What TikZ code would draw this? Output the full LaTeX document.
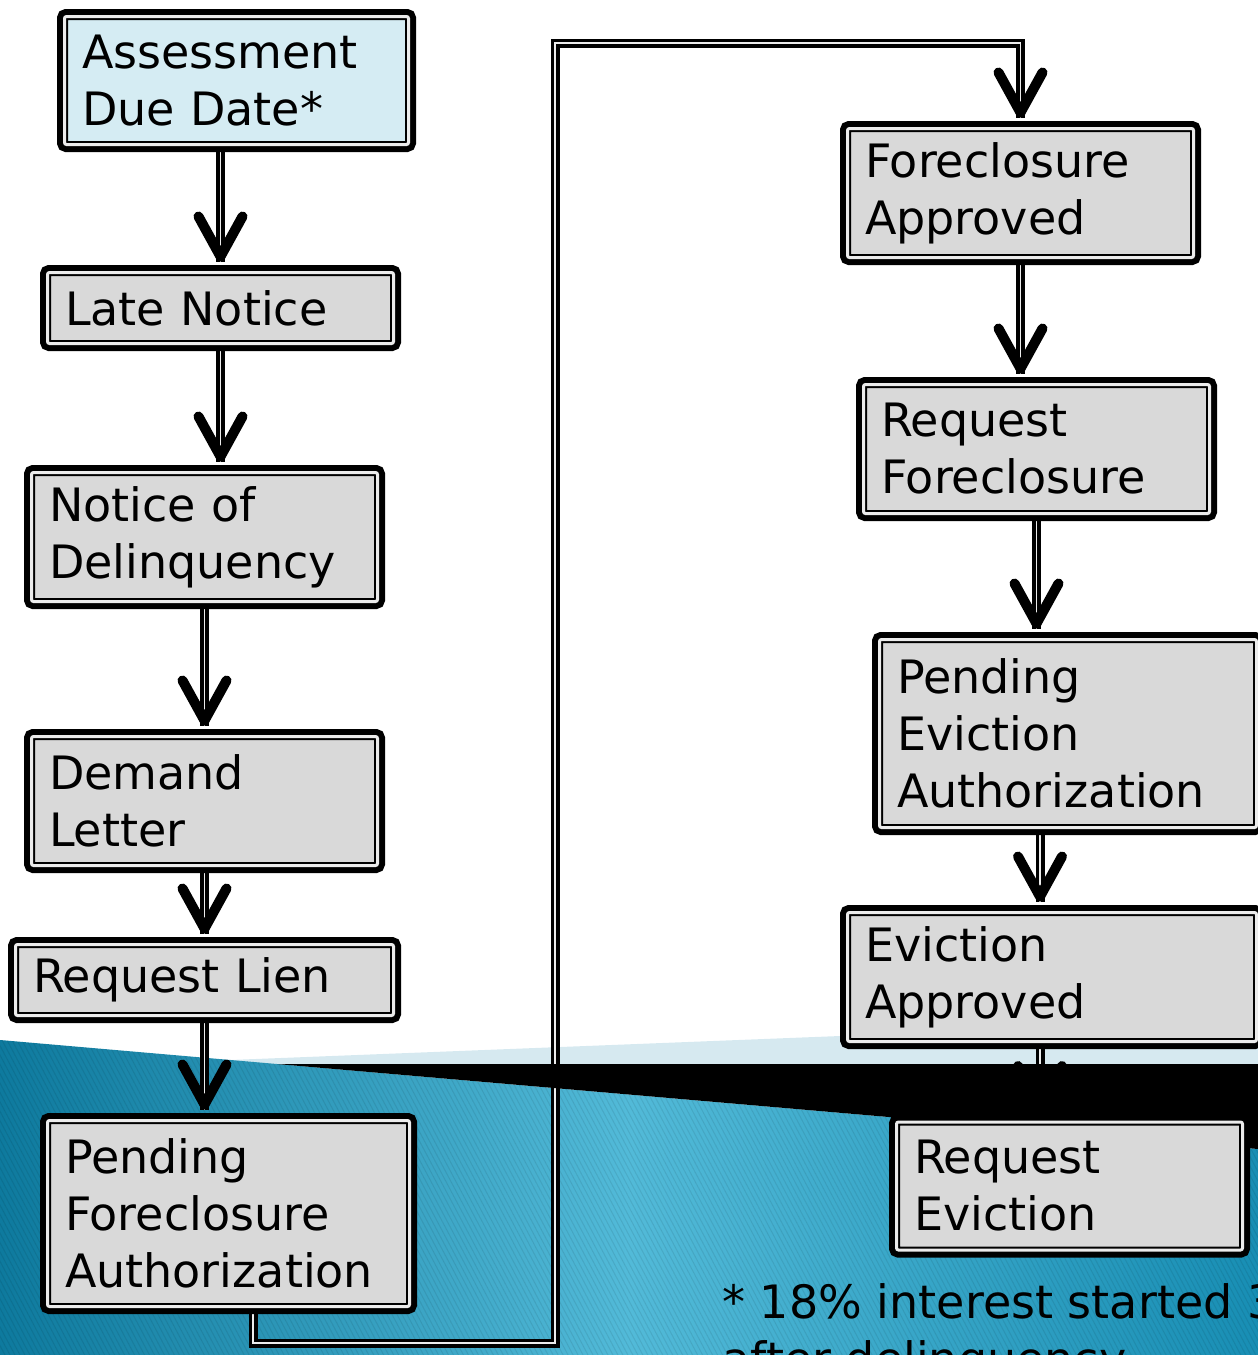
\documentclass[tikz,border=0pt]{standalone}
\usepackage{fontspec}
\setmainfont{DejaVu Sans}
\usetikzlibrary{arrows.meta,calc,patterns.meta}
\definecolor{boxgray}{RGB}{217,217,217}
\definecolor{boxblue}{RGB}{213,236,243}
\definecolor{gapcol}{RGB}{236,236,236}
\definecolor{bandblue}{RGB}{214,233,240}
\definecolor{tealL}{RGB}{14,122,158}
\definecolor{tealM}{RGB}{82,186,216}
\definecolor{tealR}{RGB}{24,142,180}
\pgfdeclarelayer{bg}\pgfdeclarelayer{conn}\pgfdeclarelayer{blk}
\pgfsetlayers{bg,conn,blk,main}
\tikzset{
  flowbox/.style={draw=black, line width=1pt, double=gapcol, double distance=1.5pt,
    fill=boxgray, rounded corners=1pt,
    preaction={draw=black, line width=7.5pt, rounded corners=2pt},
    inner xsep=8.75pt, inner ysep=0pt, align=left,
    font=\fontsize{23pt}{28.5pt}\selectfont},
  dims/.style n args={3}{minimum width=#1, text width=#2, minimum height=#3},
  conn/.style={draw=black, line width=1.8pt, double=gapcol, double distance=0.9pt},
  tipst/.style={draw=black, line width=0.4pt,
    -{Straight Barb[length=20pt,width=22pt,line width=5pt,round]}},
  fnote/.style={anchor=north west, inner sep=0pt, align=left,
    font=\fontsize{23pt}{28.5pt}\selectfont},
}
\begin{document}
\begin{tikzpicture}[x=0.5pt,y=-0.5pt]
\useasboundingbox (0,0) rectangle (1258,1355);
\begin{scope}
\clip (0,0) rectangle (1258,1355);
\node[flowbox, fill=boxblue, dims={172pt}{154.5pt}{64pt}] (ad) at (236.5,80.5) {Assessment\\Due Date*};
\node[flowbox, dims={173pt}{155.5pt}{35.5pt}] (ln) at (220.5,308) {Late Notice};
\node[flowbox, dims={173pt}{155.5pt}{64.5pt}] (nd) at (204.5,537) {Notice of\\Delinquency};
\node[flowbox, dims={173pt}{155.5pt}{64.5pt}] (dl) at (204.5,801) {Demand\\Letter};
\node[flowbox, dims={189pt}{171.5pt}{35.5pt}] (rl) at (204.5,980) {Request Lien};
\node[flowbox, dims={181pt}{163.5pt}{93pt}] (pfa) at (228.5,1213.5) {Pending\\Foreclosure\\Authorization};
\node[flowbox, dims={173pt}{155.5pt}{64.5pt}] (fa) at (1020.5,193) {Foreclosure\\Approved};
\node[flowbox, dims={173pt}{155.5pt}{64.5pt}] (rf) at (1036.5,449) {Request\\Foreclosure};
\node[flowbox, dims={188.5pt}{171pt}{94pt}] (pea) at (1068,733.5) {Pending\\Eviction\\Authorization};
\node[flowbox, dims={204.5pt}{187pt}{64.5pt}] (ea) at (1052,977) {Eviction\\Approved};
\node[flowbox, dims={173pt}{155.5pt}{64pt}] (re) at (1069.5,1186) {Request\\Eviction};
\node[fnote] (fn) at (722,1283) {* 18\% interest started 3\\after delinquency};
\end{scope}

\begin{pgfonlayer}{bg}
\fill[bandblue] (230,1060) -- (840,1036) -- (1258,1027) -- (1258,1072) -- (230,1072) -- cycle;
\shade[left color=tealL, right color=tealR, middle color=tealM]
  (0,1040) -- (1258,1149) -- (1258,1355) -- (0,1355) -- cycle;
\fill[pattern={Lines[angle=-62,distance=2.2pt,line width=0.5pt]}, pattern color=black, opacity=0.08]
  (0,1040) -- (1258,1149) -- (1258,1355) -- (0,1355) -- cycle;
\end{pgfonlayer}

\begin{pgfonlayer}{conn}
\coordinate (x1040) at (1040,0);
\coordinate (k1) at (253,1343);
\coordinate (k2) at (555,1343);
\coordinate (k3) at (555,43);
\coordinate (e12) at ($(ln.north)+(0,-10)$);
\coordinate (e23) at ($(ln.south |- nd.north)+(0,-10)$);
\coordinate (e34) at ($(dl.north)+(0,-10)$);
\coordinate (e45) at ($(dl.south |- rl.north)+(0,-10)$);
\coordinate (e56) at ($(rl.south |- pfa.north)+(0,-10)$);
\coordinate (e67) at ($(fa.north)+(0,-10)$);
\coordinate (e78) at ($(fa.south |- rf.north)+(0,-10)$);
\coordinate (e89) at ($(rf.south |- pea.north)+(0,-10)$);
\coordinate (e910) at ($(x1040 |- ea.north)+(0,-10)$);
\coordinate (e1011) at ($(x1040 |- re.north)+(0,-10)$);
\draw[conn] (ad.south -| e12) -- (e12);
\draw[conn] (ln.south) -- (e23);
\draw[conn] (nd.south) -- (e34);
\draw[conn] (dl.south) -- (e45);
\draw[conn] (rl.south) -- (e56);
\draw[conn] (pfa.south -| k1) -- (k1) -- (k2) -- (k3) -- (k3 -| fa.north) -- (e67);
\draw[conn] (fa.south) -- (e78);
\draw[conn] (rf.south) -- (e89);
\draw[conn] (pea.south -| x1040) -- (e910);
\draw[conn] (ea.south -| x1040) -- (e1011);
\foreach \e in {e12,e23,e34,e45,e56,e67,e78,e89,e910,e1011}
  \draw[tipst] ($(\e)+(0,-1)$) -- (\e);
\end{pgfonlayer}

\begin{pgfonlayer}{blk}
\fill[black] (277,1064) -- (1258,1064) -- (1258,1149) -- cycle;
\end{pgfonlayer}
\end{tikzpicture}
\end{document}
